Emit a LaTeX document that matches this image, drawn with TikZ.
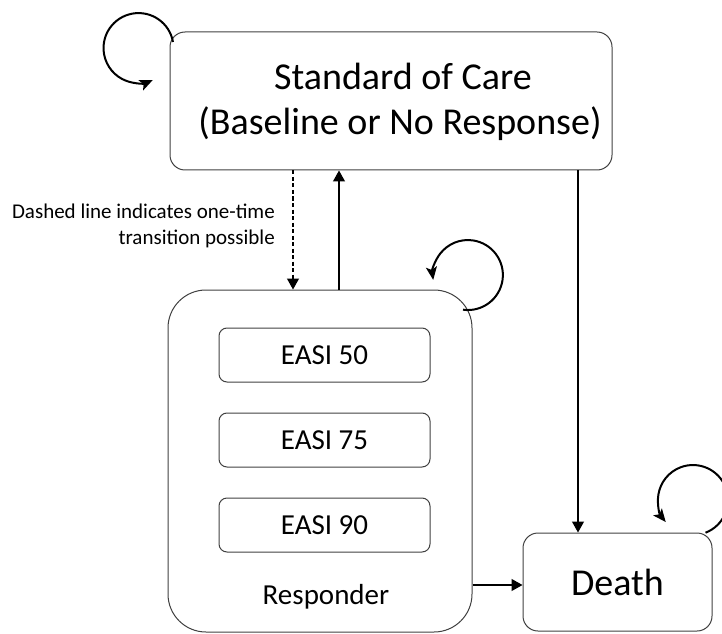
\documentclass[tikz,border=0pt]{standalone}
\usepackage{fontspec}
\setmainfont{Carlito}
\usetikzlibrary{arrows.meta}
\definecolor{bordergray}{RGB}{64,64,64}
\begin{document}
\begin{tikzpicture}[x=1pt,y=1pt,
  box/.style={draw=bordergray, line width=1pt, rounded corners=15pt, inner sep=0pt},
  arr/.style={draw=black, line width=1.2pt, -{Triangle[length=11pt,width=12pt]}},
  loopar/.style={draw=black, line width=2pt, -{Stealth[length=13pt,width=11pt,inset=3pt]}},
  big/.style={font=\fontsize{38}{45}\selectfont},
  mid/.style={font=\fontsize{29}{35}\selectfont},
  small/.style={font=\fontsize{21}{26}\selectfont}]
\useasboundingbox (0,0) rectangle (722,633);
% boxes
\node[box, minimum width=442pt, minimum height=138pt] (soc) at (391,532) {};
\node[big, inner sep=0pt, anchor=base] (soctext1) at (403,543) {Standard of Care};
\node[big, inner sep=0pt, anchor=base] (soctext2) at (400,498) {(Baseline or No Response)};
\node[box, rounded corners=38pt, minimum width=304pt, minimum height=342pt] (resp) at (320,172) {};
\node[box, rounded corners=8pt, minimum width=211pt, minimum height=54pt, mid] (e50) at (324.5,278) {EASI 50};
\node[box, rounded corners=8pt, minimum width=211pt, minimum height=54pt, mid] (e75) at (324.5,193) {EASI 75};
\node[box, rounded corners=8pt, minimum width=211pt, minimum height=54pt, mid] (e90) at (324.5,108) {EASI 90};
\node[mid, inner sep=0pt] (resptext) at (326,36) {Responder};
\node[box, minimum width=189pt, minimum height=98pt, big] (death) at (617.5,51) {Death};
% note
\node[small, align=right, anchor=east, inner sep=0pt] (note) at (275,407.5) {Dashed line indicates one-time\\transition possible};
% connectors
\coordinate (dashx) at (293,0);
\coordinate (upx) at (339,0);
\coordinate (dx) at (578,0);
\coordinate (ry) at (0,48);
\draw[arr, dash pattern=on 4pt off 2.5pt] (soc.south -| dashx) -- (resp.north -| dashx);
\draw[arr] (resp.north -| upx) -- (soc.south -| upx);
\draw[arr] (soc.south -| dx) -- (death.north -| dx);
\draw[arr] (resp.east |- ry) -- (death.west |- ry);
% self loops
\coordinate (socloop) at (173,591);
\coordinate (resploop) at (463,323.3);
\coordinate (deathloop) at (705.5,100.3);
\draw[loopar] (socloop) arc[start angle=10,end angle=294,radius=35];
\draw[loopar] (resploop) arc[start angle=-98,end angle=188,radius=35];
\draw[loopar] (deathloop) arc[start angle=-69,end angle=219,radius=35];
\end{tikzpicture}
\end{document}
